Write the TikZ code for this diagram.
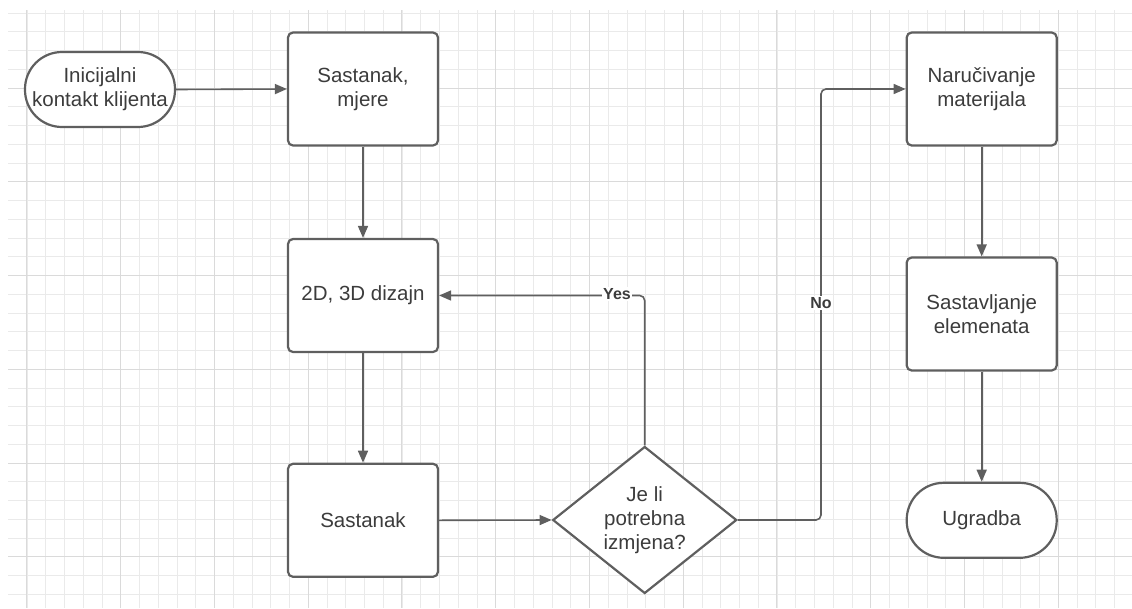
\documentclass[tikz,border=0pt]{standalone}
\usepackage{fontspec}
\setmainfont{Liberation Sans}
\usetikzlibrary{arrows.meta,shapes.geometric}
\definecolor{gridminor}{HTML}{EAEAEA}
\definecolor{gridmajor}{HTML}{DADADA}
\definecolor{shapeline}{HTML}{5F5F5F}
\definecolor{txt}{HTML}{3C3C3C}
\tikzset{
  minorgrid/.style={draw=gridminor, line width=0.9pt},
  majorgrid/.style={draw=gridmajor, line width=1pt},
  procbox/.style={draw=shapeline, line width=2.2pt, fill=white, rounded corners=5pt,
    minimum width=150pt, minimum height=113pt, align=center, text=txt,
    font=\fontsize{20.5}{24}\selectfont, inner sep=0pt},
  termbox/.style={draw=shapeline, line width=2.2pt, fill=white, rounded corners=37pt,
    minimum width=150pt, minimum height=75pt, align=center, text=txt,
    font=\fontsize{20.5}{24}\selectfont, inner sep=0pt},
  decbox/.style={draw=shapeline, line width=2.2pt, fill=white, diamond, aspect=1.25,
    minimum width=184pt, minimum height=147pt, align=center, text=txt,
    font=\fontsize{20.5}{24}\selectfont, inner sep=0pt},
  conn/.style={draw=shapeline, line width=1.6pt, rounded corners=5pt,
    -{Triangle[length=12pt,width=10pt]}},
  lbl/.style={fill=white, text=txt, font=\bfseries\fontsize{16}{19}\selectfont, inner sep=1pt}
}
\begin{document}
\begin{tikzpicture}[x=1pt,y=-1pt]
\useasboundingbox (0,0) rectangle (1132,608);
% grid
\foreach \i in {0,...,58} \draw[minorgrid] ({26.95+18.75*\i},10) -- ++(0,598);
\foreach \i in {0,...,31} \draw[minorgrid] (8,{13+18.75*\i}) -- (1132,{13+18.75*\i});
\foreach \i in {0,...,11} \draw[majorgrid] ({26.95+93.75*\i},10) -- ++(0,598);
\foreach \i in {0,...,5} \draw[majorgrid] (8,{88+93.75*\i}) -- (1132,{88+93.75*\i});
% nodes
\node[termbox] (start) at (100,89.5) {Inicijalni\\kontakt klijenta};
\node[procbox] (meet1) at (363,89) {Sastanak,\\mjere};
\node[procbox] (design) at (363,295.5) {2D, 3D dizajn};
\node[procbox] (meet2) at (363,520.3) {Sastanak};
\node[decbox] (dec) at (644.7,520) {Je li\\potrebna\\izmjena?};
\node[procbox] (order) at (981.7,89) {Naručivanje\\materijala};
\node[procbox] (assem) at (981.7,314) {Sastavljanje\\elemenata};
\node[termbox] (final) at (981.7,520.3) {Ugradba};
\coordinate (nomid) at (821,300);
% connectors
\draw[conn] (start.east) -- (meet1.west);
\draw[conn] (meet1.south) -- (design.north);
\draw[conn] (design.south) -- (meet2.north);
\draw[conn] (meet2.east) -- (dec.west);
\draw[conn] (dec.north) |- (design.east);
\draw[conn] (dec.east) -| (nomid) |- (order.west);
\draw[conn] (order.south) -- (assem.north);
\draw[conn] (assem.south) -- (final.north);
% labels
\node[lbl] (yes) at (617,294) {Yes};
\node[lbl] (no) at (821,303) {No};
\end{tikzpicture}
\end{document}
